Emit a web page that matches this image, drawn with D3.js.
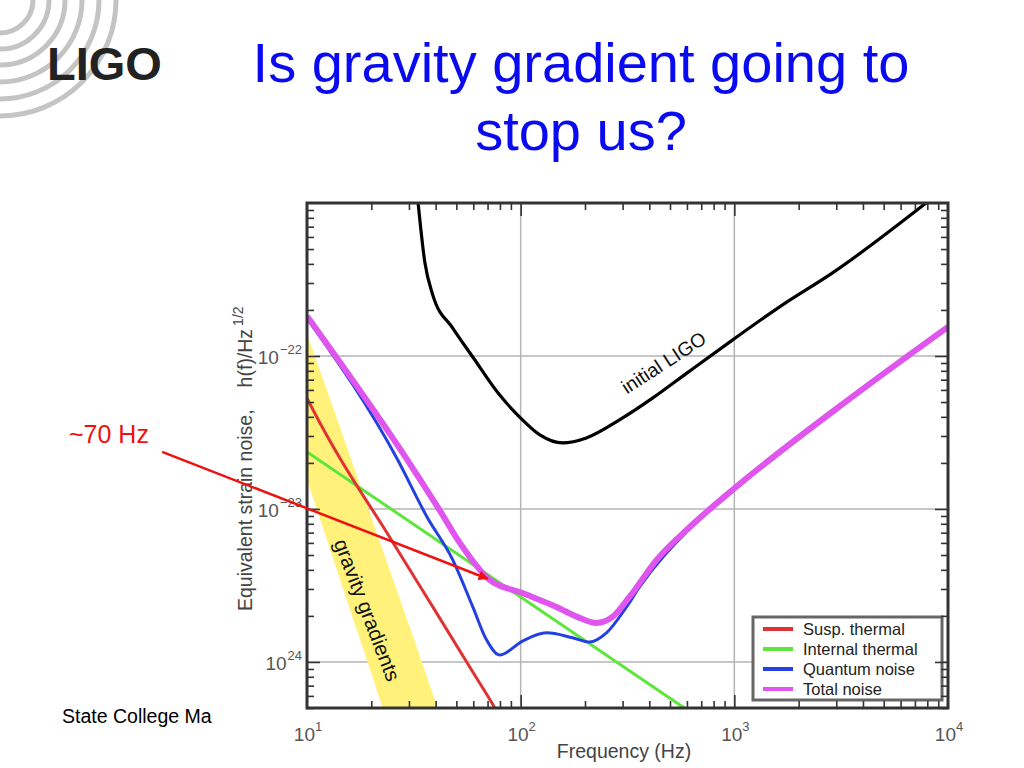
<!DOCTYPE html>
<html>
<head>
<meta charset="utf-8">
<script src="https://cdn.jsdelivr.net/npm/d3@7"></script>
<style>
  body { margin: 0; background: #fff; }
  svg { display: block; font-family: "Liberation Sans", Arial, sans-serif; }
</style>
</head>
<body>
<svg width="1024" height="768"></svg>
<script>
var titleLines = ["Is gravity gradient going to", "stop us?"];

var legendNames = ["Susp. thermal", "Internal thermal", "Quantum noise", "Total noise"];
var legendColors = ["#e03232", "#5ee63c", "#2340e0", "#df55ee"];

// initial LIGO sensitivity
var ligoFreq  = [33.0, 35.6, 38.8, 48.1, 59.7, 79.8, 98.9, 123, 157, 203, 290, 414, 597, 979, 1675, 2870, 7890];
var ligoNoise = [1.05e-21, 4.1e-22, 2.5e-22, 1.52e-22, 9.85e-23, 5.55e-23, 3.99e-23, 3.05e-23, 2.7e-23, 2.91e-23, 3.82e-23, 5.3e-23, 7.7e-23, 1.27e-22, 2.15e-22, 3.48e-22, 1.0e-21];

var suspFreq  = [10, 11.5, 13.8, 23.7, 38.8, 59.7, 75.7, 90];
var suspNoise = [5.3e-23, 3.65e-23, 2.32e-23, 6.97e-24, 2.29e-24, 8.6e-25, 5.0e-25, 3.2e-25];

var internalFreq  = [10, 100, 1000];
var internalNoise = [2.36e-23, 2.66e-24, 3.0e-25];

var quantumFreq  = [10, 26.6, 36.4, 48.1, 59.7, 69.3, 79.8, 102, 132, 175, 210, 252, 313, 360, 617, 979, 3560, 10000];
var quantumNoise = [1.77e-22, 2.09e-23, 8.9e-24, 4.65e-24, 2.29e-24, 1.39e-24, 1.11e-24, 1.37e-24, 1.55e-24, 1.44e-24, 1.35e-24, 1.55e-24, 2.29e-24, 3.09e-24, 7.4e-24, 1.3e-23, 5.3e-23, 1.52e-22];

var totalFreq  = [10, 31.0, 41.8, 51.9, 71.6, 102, 147, 189, 226, 269, 323, 433, 617, 979, 3560, 10000];
var totalNoise = [1.82e-22, 1.88e-23, 9.8e-24, 6.0e-24, 3.44e-24, 2.82e-24, 2.29e-24, 1.94e-24, 1.80e-24, 1.97e-24, 2.66e-24, 4.65e-24, 7.6e-24, 1.33e-23, 5.4e-23, 1.55e-22];

// gravity gradient band
var ggFreq  = [10, 15, 20, 30, 45];
var ggUpper = [1.4e-22, 2.8e-23, 8.8e-24, 1.75e-24, 3.4e-25];
var ggLower = [1.55e-23, 2.8e-24, 8.4e-25, 1.5e-25, 2.8e-26];

var xTickExp = [1, 2, 3, 4];
var yTickVals = [1e-22, 1e-23, 1e-24];
var yTickSup = ["\u221222", "\u221223", "24"];

// annotation anchor points (frequency, strain)
var ligoLabelAt = [486, 8.3e-23];
var ggLabelAt = [17.8, 2.1e-24];
var arrowFrom = [2.1, 2.36e-23];
var arrowTo = [70, 3.5e-24];

var svg = d3.select("svg");

var plotLeft = 307, plotRight = 948, plotTop = 203, plotBottom = 708;

var x = d3.scaleLog().domain([10, 1e4]).range([plotLeft, plotRight]);
var y = d3.scaleLog().domain([5e-25, 1e-21]).range([plotBottom, plotTop]);

///////////////////// LOGO + TITLE ////////////////////
var logo = svg.append("g");
[33, 49, 65, 82, 99, 116].forEach(function (r) {
    logo.append("path")
        .attr("d", d3.arc()({innerRadius: r, outerRadius: r, startAngle: Math.PI / 2, endAngle: Math.PI}))
        .attr("fill", "none")
        .attr("stroke", "#c4c4c4")
        .attr("stroke-width", 5);
});
logo.append("text")
    .attr("x", 47).attr("y", 80)
    .attr("font-size", "47px")
    .attr("font-weight", "bold")
    .attr("fill", "#222")
    .text("LIGO");

svg.selectAll(".title")
    .data(titleLines)
    .enter().append("text")
    .attr("class", "title")
    .attr("x", 581)
    .attr("y", function (d, i) { return 82 + i * 68; })
    .attr("text-anchor", "middle")
    .attr("font-size", "56px")
    .attr("fill", "#0a0af0")
    .text(function (d) { return d; });

svg.append("text")
    .attr("x", 62).attr("y", 723)
    .attr("font-size", "19.5px")
    .attr("fill", "#000")
    .text("State College Ma");
/////////////////////////////////////////////////////

svg.append("rect")
    .attr("x", plotLeft).attr("y", plotTop)
    .attr("width", plotRight - plotLeft).attr("height", plotBottom - plotTop)
    .attr("fill", "#fff");

svg.append("clipPath").attr("id", "plotclip")
    .append("rect")
    .attr("x", plotLeft).attr("y", plotTop)
    .attr("width", plotRight - plotLeft).attr("height", plotBottom - plotTop);

///////////////////// GRID ////////////////////
var grid = svg.append("g").attr("stroke", "#b4b4b4").attr("stroke-width", 1.5);
grid.selectAll(".gx")
    .data([100, 1000])
    .enter().append("line")
    .attr("x1", function (d) { return x(d); }).attr("x2", function (d) { return x(d); })
    .attr("y1", plotTop).attr("y2", plotBottom);
grid.selectAll(".gy")
    .data(yTickVals)
    .enter().append("line")
    .attr("y1", function (d) { return y(d); }).attr("y2", function (d) { return y(d); })
    .attr("x1", plotLeft).attr("x2", plotRight);

///////////////////// CURVES ////////////////////
var plot = svg.append("g").attr("clip-path", "url(#plotclip)");

var band = ggFreq.map(function (f, i) { return [f, ggLower[i], ggUpper[i]]; });
plot.append("path")
    .datum(band)
    .attr("fill", "#fff17a")
    .attr("d", d3.area()
        .x(function (d) { return x(d[0]); })
        .y0(function (d) { return y(d[1]); })
        .y1(function (d) { return y(d[2]); }));

var line = d3.line()
    .x(function (d) { return x(d[0]); })
    .y(function (d) { return y(d[1]); })
    .curve(d3.curveMonotoneX);

function zip(fs, hs) { return fs.map(function (f, i) { return [f, hs[i]]; }); }

var curves = [
    {pts: zip(internalFreq, internalNoise), color: legendColors[1], w: 3},
    {pts: zip(suspFreq, suspNoise), color: legendColors[0], w: 3},
    {pts: zip(quantumFreq, quantumNoise), color: legendColors[2], w: 3},
    {pts: zip(totalFreq, totalNoise), color: legendColors[3], w: 6},
    {pts: zip(ligoFreq, ligoNoise), color: "#000", w: 3.2}
];

plot.selectAll(".curve")
    .data(curves)
    .enter().append("path")
    .attr("class", "curve")
    .attr("fill", "none")
    .attr("stroke", function (d) { return d.color; })
    .attr("stroke-width", function (d) { return d.w; })
    .attr("stroke-linejoin", "round")
    .attr("d", function (d) { return line(d.pts); });

svg.append("text")
    .attr("transform", "translate(" + x(ligoLabelAt[0]) + "," + y(ligoLabelAt[1]) + ")rotate(-33)")
    .attr("text-anchor", "middle")
    .attr("font-size", "19.5px")
    .attr("fill", "#111")
    .text("initial LIGO");

svg.append("text")
    .attr("transform", "translate(" + x(ggLabelAt[0]) + "," + y(ggLabelAt[1]) + ")rotate(69)")
    .attr("text-anchor", "middle")
    .attr("font-size", "20.5px")
    .attr("fill", "#111")
    .text("gravity gradients");

///////////////////// LEGEND ////////////////////
var legend = svg.append("g");
legend.append("rect")
    .attr("x", 753).attr("y", 617)
    .attr("width", 189).attr("height", 83)
    .attr("fill", "#fff")
    .attr("stroke", "#666")
    .attr("stroke-width", 3);
legendNames.forEach(function (name, i) {
    var yy = 635 + i * 20;
    legend.append("line")
        .attr("x1", 763).attr("x2", 793)
        .attr("y1", yy - 6).attr("y2", yy - 6)
        .attr("stroke", legendColors[i])
        .attr("stroke-width", 4);
    legend.append("text")
        .attr("x", 803).attr("y", yy)
        .attr("font-size", "16.5px")
        .attr("fill", "#222")
        .text(name);
});

///////////////////// AXES ////////////////////
var xMinor = [], yMinor = [];
[10, 100, 1000].forEach(function (d) { for (var k = 2; k < 10; k++) xMinor.push(k * d); });
[1e-25, 1e-24, 1e-23, 1e-22].forEach(function (d) {
    for (var k = 2; k < 10; k++) { if (k * d >= 5e-25) yMinor.push(k * d); }
});
var xMajor = [100, 1000], yMajor = yTickVals;

function styleAxis(g) {
    g.select(".domain").remove();
    g.selectAll(".tick line").attr("stroke", "#333").attr("stroke-width", 1.6);
}

var axes = [
    [d3.axisBottom(x), "translate(0," + plotBottom + ")", xMinor, xMajor],
    [d3.axisTop(x), "translate(0," + plotTop + ")", xMinor, xMajor],
    [d3.axisLeft(y), "translate(" + plotLeft + ",0)", yMinor, yMajor],
    [d3.axisRight(y), "translate(" + plotRight + ",0)", yMinor, yMajor]
];
axes.forEach(function (a) {
    svg.append("g").attr("transform", a[1])
        .call(a[0].tickValues(a[2]).tickSize(-7).tickFormat(""))
        .call(styleAxis);
    svg.append("g").attr("transform", a[1])
        .call(a[0].tickValues(a[3]).tickSize(-13).tickFormat(""))
        .call(styleAxis);
});

svg.append("rect")
    .attr("x", plotLeft).attr("y", plotTop)
    .attr("width", plotRight - plotLeft).attr("height", plotBottom - plotTop)
    .attr("fill", "none")
    .attr("stroke", "#333")
    .attr("stroke-width", 3);

// tick labels
var xl = svg.selectAll(".xlab")
    .data(xTickExp)
    .enter().append("text")
    .attr("class", "xlab")
    .attr("x", function (d) { return x(Math.pow(10, d)) + 1; })
    .attr("y", 741)
    .attr("text-anchor", "middle")
    .attr("fill", "#555")
    .attr("font-size", "19px");
xl.append("tspan").text("10");
xl.append("tspan").attr("dy", -10).attr("font-size", "13px").text(function (d) { return d; });

var yl = svg.selectAll(".ylab")
    .data(yTickVals)
    .enter().append("text")
    .attr("class", "ylab")
    .attr("x", 302)
    .attr("y", function (d) { return y(d) + 8; })
    .attr("text-anchor", "end")
    .attr("fill", "#555")
    .attr("font-size", "19px");
yl.append("tspan").text("10");
yl.append("tspan").attr("dy", -10).attr("dx", 1).attr("font-size", "13px").text(function (d, i) { return yTickSup[i]; });

svg.append("text")
    .attr("x", 624).attr("y", 758)
    .attr("text-anchor", "middle")
    .attr("font-size", "19.5px")
    .attr("fill", "#444")
    .text("Frequency (Hz)");

var ylab = svg.append("text")
    .attr("transform", "translate(252,611)rotate(-90)")
    .attr("font-size", "19.5px")
    .attr("fill", "#444");
ylab.append("tspan").text("Equivalent strain noise,");
ylab.append("tspan").attr("dx", 22).text("h(f)/Hz");
ylab.append("tspan").attr("dx", 3).attr("dy", -9).attr("font-size", "14px").text("1/2");

///////////////////// ARROW ////////////////////
svg.append("defs").append("marker")
    .attr("id", "head")
    .attr("viewBox", "0 0 10 10")
    .attr("refX", 9).attr("refY", 5)
    .attr("markerWidth", 4).attr("markerHeight", 4)
    .attr("markerUnits", "strokeWidth")
    .attr("orient", "auto")
    .append("path")
    .attr("d", "M0,0L10,5L0,10z")
    .attr("fill", "#ee1111");

svg.append("line")
    .attr("x1", x(arrowFrom[0])).attr("y1", y(arrowFrom[1]))
    .attr("x2", x(arrowTo[0])).attr("y2", y(arrowTo[1]))
    .attr("stroke", "#ee1111")
    .attr("stroke-width", 2.5)
    .attr("marker-end", "url(#head)");

svg.append("text")
    .attr("x", 69).attr("y", 443)
    .attr("font-size", "25px")
    .attr("fill", "#ee1111")
    .text("~70 Hz");
</script>
</body>
</html>
